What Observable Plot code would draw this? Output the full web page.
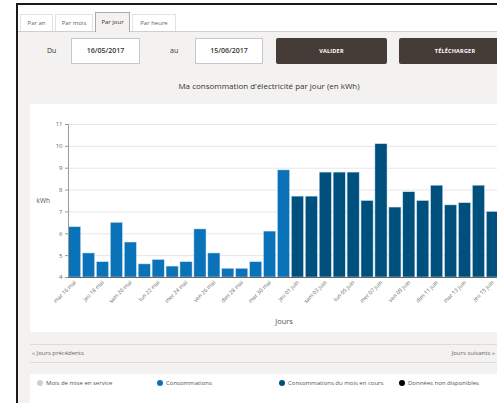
<!DOCTYPE html>
<html>
<head>
<meta charset="utf-8">
<script src="https://cdn.jsdelivr.net/npm/d3@7"></script>
<script src="https://cdn.jsdelivr.net/npm/@observablehq/plot@0.6"></script>
<style>
  html, body { margin:0; padding:0; }
  body { width:497px; height:403px; overflow:hidden; background:#fff; position:relative; font-family:"Open Sans", "DejaVu Sans", sans-serif; }
  .abs { position:absolute; }
  .frame { left:16px; top:3px; width:600px; height:500px; border:2px solid #1a1a1a; box-sizing:border-box; }
  .panel { left:18px; top:32px; width:500px; height:400px; background:#f3f2f0; }
  .tabline { left:18px; top:31px; width:500px; height:1px; background:#cfcfcf; }
  .tab { top:14px; height:17px; border:1px solid #e2e2e2; border-bottom:none; font-size:6px; color:#666; text-align:center; line-height:17px; box-sizing:border-box; background:#fff; }
  .tab.active { top:12px; height:20px; line-height:19px; background:#f3f2f0; border-color:#aaa; color:#333; }
  .lbl { font-size:7px; color:#333; }
  .input { top:38px; height:26px; background:#fff; border:1px solid #c8c8c8; box-sizing:border-box; font-size:7px; color:#333; text-align:center; line-height:24px; font-weight:600; }
  .btn { top:38px; height:26px; background:#463c37; border-radius:2px; color:#fff; font-size:5.5px; font-weight:700; text-align:center; line-height:26px; letter-spacing:0.2px; }
  .title { top:80px; left:100px; width:338px; text-align:center; font-size:8px; color:#333; }
  .white { background:#fff; }
  .hline { height:1px; background:#dcdcdc; }
  .nav { font-size:6px; color:#666; white-space:nowrap; }
  .leg { top:379px; font-size:6px; color:#555; white-space:nowrap; }
  .dot { display:inline-block; width:6px; height:6px; border-radius:50%; vertical-align:-1px; margin-right:3px; }
  #chart { left:30px; top:104px; width:470px; }
</style>
</head>
<body>
<div class="abs frame"></div>
<div class="abs panel"></div>
<div class="abs tabline"></div>
<div class="abs tab" style="left:20px;width:33px;">Par an</div>
<div class="abs tab" style="left:55px;width:38px;">Par mois</div>
<div class="abs tab active" style="left:95px;width:35px;">Par jour</div>
<div class="abs tab" style="left:132px;width:44px;">Par heure</div>

<div class="abs lbl" style="left:47px;top:46px;">Du</div>
<div class="abs input" style="left:71px;width:69px;">16/05/2017</div>
<div class="abs lbl" style="left:170px;top:46px;">au</div>
<div class="abs input" style="left:195px;width:68px;">15/06/2017</div>
<div class="abs btn" style="left:276px;width:111px;">VALIDER</div>
<div class="abs btn" style="left:399px;width:112px;">TÉLÉCHARGER</div>

<div class="abs title">Ma consommation d'électricité par jour (en kWh)</div>

<div class="abs white" style="left:30px;top:104px;width:480px;height:228px;"></div>
<div id="chart" class="abs"></div>

<div class="abs hline" style="left:30px;top:344px;width:480px;"></div>
<div class="abs nav" style="left:32px;top:349px;">« Jours précédents</div>
<div class="abs nav" style="right:2px;top:349px;">Jours suivants »</div>
<div class="abs hline" style="left:30px;top:362px;width:480px;"></div>

<div class="abs white" style="left:30px;top:374px;width:480px;height:40px;"></div>
<div class="abs leg" style="left:37px;"><span class="dot" style="background:#cfcfcf"></span>Mois de mise en service</div>
<div class="abs leg" style="left:157px;"><span class="dot" style="background:#0a72b8"></span>Consommations</div>
<div class="abs leg" style="left:279px;"><span class="dot" style="background:#00507e"></span>Consommations du mois en cours</div>
<div class="abs leg" style="left:399px;"><span class="dot" style="background:#000"></span>Données non disponibles</div>

<script>
// Days (16 mai -> 15 juin 2017)
const days = [
  "mar 16 mai","mer 17 mai","jeu 18 mai","ven 19 mai","sam 20 mai","dim 21 mai","lun 22 mai",
  "mar 23 mai","mer 24 mai","jeu 25 mai","ven 26 mai","sam 27 mai","dim 28 mai","lun 29 mai",
  "mar 30 mai","mer 31 mai",
  "jeu 01 juin","ven 02 juin","sam 03 juin","dim 04 juin","lun 05 juin","mar 06 juin","mer 07 juin",
  "jeu 08 juin","ven 09 juin","sam 10 juin","dim 11 juin","lun 12 juin","mar 13 juin","mer 14 juin","jeu 15 juin"
];
// Consumption in kWh
const values = [
  6.3, 5.1, 4.7, 6.5, 5.6, 4.6, 4.8, 4.5, 4.7, 6.2, 5.1, 4.4, 4.4, 4.7, 6.1, 8.9,
  7.7, 7.7, 8.8, 8.8, 8.8, 7.5, 10.1, 7.2, 7.9, 7.5, 8.2, 7.3, 7.4, 8.2, 7.0
];
// Series: past month vs. current month
const series = [
  ...Array(16).fill("Consommations"),
  ...Array(15).fill("Consommations du mois en cours")
];
const seriesNames = ["Consommations", "Consommations du mois en cours"];
const seriesColors = ["#0a72b8", "#00507e"];
const tickLabels = [
  "mar 16 mai","jeu 18 mai","sam 20 mai","lun 22 mai","mer 24 mai","ven 26 mai","dim 28 mai","mar 30 mai",
  "jeu 01 juin","sam 03 juin","lun 05 juin","mer 07 juin","ven 09 juin","dim 11 juin","mar 13 juin","jeu 15 juin"
];
const yTicks = [4, 5, 6, 7, 8, 9, 10, 11];

const data = days.map((d, i) => ({day: d, value: values[i], serie: series[i]}));

const chart = Plot.plot({
  width: 470,
  height: 228,
  marginTop: 20,
  marginBottom: 55,
  marginLeft: 38,
  marginRight: 1,
  style: {fontFamily: "'Open Sans', 'DejaVu Sans', sans-serif", fontSize: "6px", color: "#555", background: "transparent", overflow: "visible", maxWidth: "none"},
  x: {domain: days, paddingInner: 0.13, paddingOuter: 0.04, round: false, label: null},
  y: {domain: [4, 11], label: null},
  color: {domain: seriesNames, range: seriesColors},
  marks: [
    Plot.gridY(yTicks, {stroke: "#e6e6e6", strokeOpacity: 1}),
    Plot.barY(data, {x: "day", y1: 4, y2: "value", fill: "serie", stroke: "#cfe3f0", strokeWidth: 0.5}),
    Plot.axisY(yTicks, {tickSize: 3, tickPadding: 3, fontSize: 6, fill: "#666", stroke: "#999", label: null}),
    Plot.axisX(tickLabels, {tickSize: 0, tickRotate: -45, tickPadding: 4, fontSize: 5.5, fill: "#666", label: null}),
    Plot.frame({anchor: "left", stroke: "#999"}),
    Plot.frame({anchor: "bottom", stroke: "#666"}),
    Plot.text(["kWh"], {frameAnchor: "left", dx: -32, text: d => d, fontSize: 6.5, fill: "#555", textAnchor: "start"}),
    Plot.text(["Jours"], {frameAnchor: "bottom", dy: 46, text: d => d, fontSize: 7.5, fill: "#555"})
  ]
});
document.getElementById("chart").appendChild(chart);
</script>
</body>
</html>
